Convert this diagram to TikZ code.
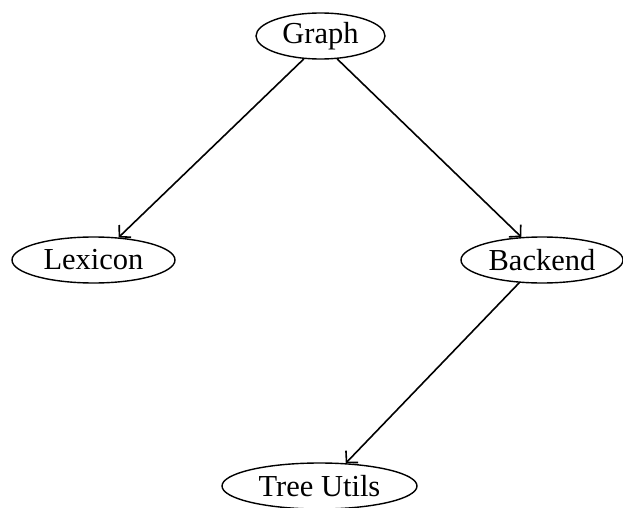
\documentclass[tikz,border=0pt]{standalone}
\usepackage{fontspec}
\setmainfont{Liberation Serif}
\usetikzlibrary{shapes.geometric,arrows.meta}
\tikzset{
  ell/.style={ellipse, draw, line width=1.4pt, inner sep=0pt, minimum height=46pt, font=\fontsize{30.5}{36}\selectfont},
  edge/.style={line width=1.6pt, -{Straight Barb[length=8pt,width=17pt,line width=1.6pt]}}
}
\begin{document}
\begin{tikzpicture}[x=1pt,y=-1pt]
\useasboundingbox (0,0) rectangle (623,508);
\node[ell, minimum width=129pt] (g) at (320.5,36) {Graph};
\node[ell, minimum width=163pt] (l) at (93.5,260) {Lexicon};
\node[ell, minimum width=162pt] (b) at (542,260) {Backend};
\node[ell, minimum width=195pt] (t) at (319.5,486) {Tree Utils};
\draw[edge] (g.234) -- (l.42);
\draw[edge] (g.306) -- (b.132);
\draw[edge] (b.225) -- (t.41);
\end{tikzpicture}
\end{document}
